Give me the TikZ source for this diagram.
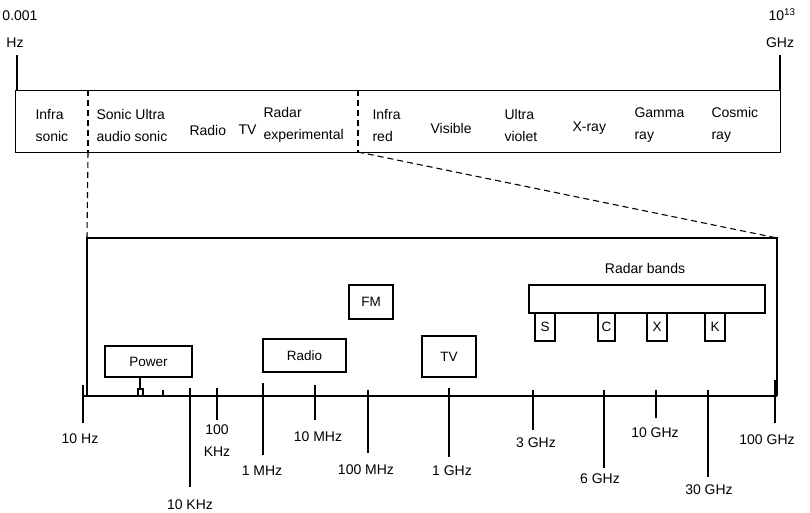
\documentclass[tikz,border=0pt]{standalone}
\usepackage{fontspec}
\setmainfont{Liberation Sans}
\begin{document}
\begin{tikzpicture}[x=1pt,y=-1pt,line width=1.1pt,
  lbl/.style={font=\fontsize{14}{22}\selectfont, inner sep=0pt, align=left},
  bx/.style={draw, line width=1.1pt, inner sep=0pt, font=\fontsize{13.5}{15}\selectfont},
  dsh/.style={dashed, dash pattern=on 6pt off 4pt, line width=1.1pt},
  tk/.style={line width=1.1pt}]
\useasboundingbox (0,0) rectangle (810,512);

% ---- top scale ends
\node[lbl] (lo) at (20,16) {0.001};
\node[lbl] (loHz) at (15,43) {Hz};
\node[lbl] (hi) at (782,15) {10\textsuperscript{13}};
\node[lbl] (hiGHz) at (780,43) {GHz};
\coordinate (loTop) at (17,55);
\coordinate (hiTop) at (780,55);

% ---- spectrum band box
\node[draw, line width=1.1pt, minimum width=765pt, minimum height=62pt, inner sep=0pt, anchor=north west] (band) at (15,90) {};
\draw (loTop) -- (loTop |- band.north);
\draw (hiTop) -- (hiTop |- band.north);
\coordinate (d1t) at (88,90);
\coordinate (d1b) at (88,152);
\coordinate (d2t) at (358,90);
\coordinate (d2b) at (358,152);
\draw[dsh] (d1t) -- (d1b);
\draw[dsh] (d2t) -- (d2b);

\node[lbl, anchor=west] (l1) at (35,125) {Infra\\sonic};
\node[lbl, anchor=west] (l2) at (96,125) {Sonic Ultra\\audio sonic};
\node[lbl, anchor=west] (l3) at (189,130) {Radio};
\node[lbl, anchor=west] (l4) at (238,130) {TV};
\node[lbl, anchor=west] (l5) at (263,125) {Radar\\experimental};
\node[lbl, anchor=west] (l6) at (372,125) {Infra\\red};
\node[lbl, anchor=west] (l7) at (430,128) {Visible};
\node[lbl, anchor=west] (l8) at (504,125) {Ultra\\violet};
\node[lbl, anchor=west] (l9) at (572,128) {X-ray};
\node[lbl, anchor=west] (l10) at (634,125) {Gamma\\ray};
\node[lbl, anchor=west] (l11) at (711,125) {Cosmic\\ray};

% ---- expanded box
\coordinate (lbTL) at (87,238);
\coordinate (lbTR) at (777,238);
\coordinate (ax0) at (83,396);
\coordinate (ax1) at (777,396);
\draw (lbTL |- ax0) -- (lbTL) -- (lbTR) -- (lbTR |- ax1);
\draw[dsh] (d1b) -- (lbTL);
\draw[dsh] (d2b) -- (lbTR);
\draw (ax0) -- (ax1);

% ---- ticks
\foreach \x/\t/\b/\lx/\ly/\txt in {
  83/385/423/80/439/{10 Hz},
  190/388/487/190/505/{10 KHz},
  217/388/420/217/441/{100\\KHz},
  263/383/455/262/471/{1 MHz},
  315/385/420/318/437/{10 MHz},
  368/390/453/366/470/{100 MHz},
  449/388/457/452/471/{1 GHz},
  533/390/430/536/443/{3 GHz},
  604/390/468/600/479/{6 GHz},
  656/390/418/655/433/{10 GHz},
  708/390/477/709/490/{30 GHz},
  775/380/423/767/440/{100 GHz}}{
  \coordinate (tt\x) at (\x,\t);
  \coordinate (tb\x) at (\x,\b);
  \draw[tk] (tt\x) -- (tb\x);
  \node[lbl, align=center] (lab\x) at (\lx,\ly) {\txt};
}

% ---- service boxes
\node[bx, minimum width=87pt, minimum height=31pt] (power) at (148.5,361.5) {Power};
\node[bx, minimum width=83pt, minimum height=33pt] (radio) at (304.5,355.5) {Radio};
\node[bx, minimum width=44pt, minimum height=34pt] (fm) at (371,302) {FM};
\node[bx, minimum width=54pt, minimum height=41pt] (tv) at (449,356.5) {TV};
\node[lbl] (rbt) at (645,268) {Radar bands};
\node[bx, minimum width=236pt, minimum height=28pt] (rbar) at (647,299) {};
\node[bx, minimum width=20pt, minimum height=28pt] (bS) at (545,327) {S};
\node[bx, minimum width=17pt, minimum height=28pt] (bC) at (606.5,327) {C};
\node[bx, minimum width=20pt, minimum height=28pt] (bX) at (657,327) {X};
\node[bx, minimum width=20pt, minimum height=28pt] (bK) at (715,327) {K};

% ---- power connector to axis
\coordinate (pj) at (140,389);
\draw (power.south -| pj) -- (pj);
\draw (138,396) -- (138,389) -- (143,389) -- (143,396);
\coordinate (pt) at (163,390);
\draw (pt) -- (pt |- ax0);
\end{tikzpicture}
\end{document}
